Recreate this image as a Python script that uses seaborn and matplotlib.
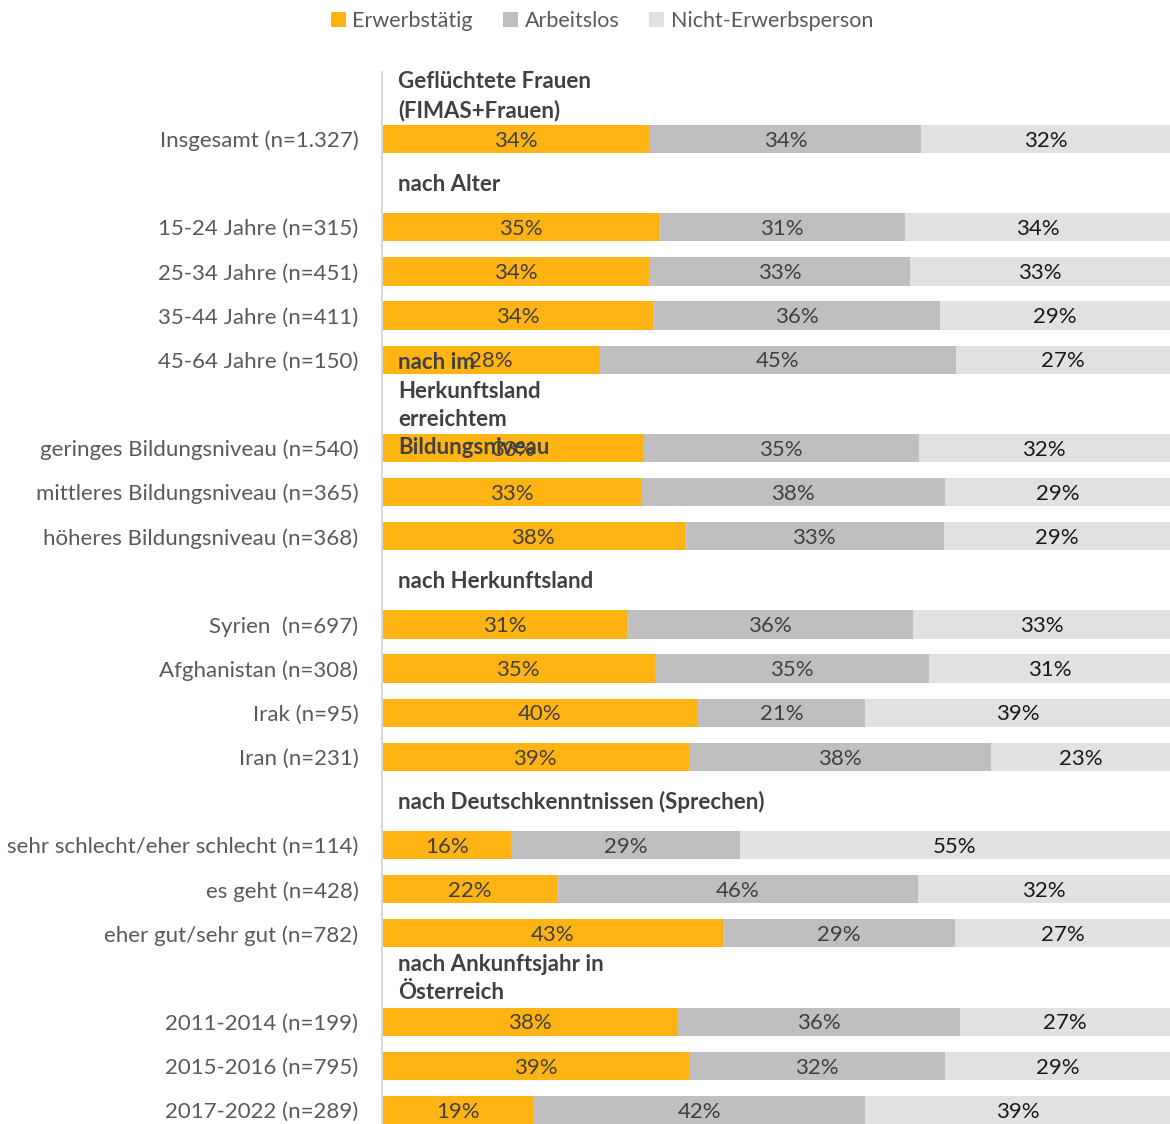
import numpy as np
import pandas as pd
import matplotlib
matplotlib.use("Agg")
import matplotlib.pyplot as plt
from matplotlib.patches import Patch
import seaborn as sns

# ---------------- data ----------------
categories = [
    "Insgesamt (n=1.327)",
    "15-24 Jahre (n=315)",
    "25-34 Jahre (n=451)",
    "35-44 Jahre (n=411)",
    "45-64 Jahre (n=150)",
    "geringes Bildungsniveau (n=540)",
    "mittleres Bildungsniveau (n=365)",
    "höheres Bildungsniveau (n=368)",
    "Syrien  (n=697)",
    "Afghanistan (n=308)",
    "Irak (n=95)",
    "Iran (n=231)",
    "sehr schlecht/eher schlecht (n=114)",
    "es geht (n=428)",
    "eher gut/sehr gut (n=782)",
    "2011-2014 (n=199)",
    "2015-2016 (n=795)",
    "2017-2022 (n=289)",
]
erwerbstaetig = [34.0, 35.2, 33.9, 34.4, 27.7, 33.2, 33.0, 38.4, 31.1, 34.6, 40.1, 38.9, 16.4, 22.2, 43.3, 37.6, 39.0, 19.3]
arbeitslos    = [34.4, 31.2, 33.1, 36.4, 45.1, 34.9, 38.4, 32.9, 36.3, 34.8, 21.2, 38.4, 29.0, 45.8, 29.4, 35.7, 32.4, 42.0]
nicht_erwerb  = [31.6, 33.6, 33.0, 29.2, 27.2, 31.9, 28.6, 28.7, 32.6, 30.6, 38.7, 22.7, 54.6, 32.0, 27.3, 26.7, 28.6, 38.7]

headers = [
    "Geflüchtete Frauen\n(FIMAS+Frauen)",
    "nach Alter",
    "nach im\nHerkunftsland\nerreichtem\nBildungsniveau",
    "nach Herkunftsland",
    "nach Deutschkenntnissen (Sprechen)",
    "nach Ankunftsjahr in\nÖsterreich",
]
header_before = [0, 1, 5, 8, 12, 15]  # index of category that follows each header

series_names = ["Erwerbstätig", "Arbeitslos", "Nicht-Erwerbsperson"]
colors = ["#FFB414", "#BFBFBF", "#E1E1E1"]

# ---------------- build row order ----------------
order = []
header_rows = {}
for i, cat in enumerate(categories):
    if i in header_before:
        key = f"__hdr{header_before.index(i)}"
        header_rows[len(order)] = headers[header_before.index(i)]
        order.append(key)
    order.append(cat)

df = pd.DataFrame({
    "cat": categories,
    "e": erwerbstaetig,
    "a": arbeitslos,
    "n": nicht_erwerb,
})
df["c1"] = df["e"]
df["c2"] = df["e"] + df["a"]
df["c3"] = df["e"] + df["a"] + df["n"]

# ---------------- plot ----------------
sns.set_theme(style="white")
plt.rcParams["font.family"] = ["Lato", "DejaVu Sans"]

FS = 16
W, H = 1170, 1124
fig = plt.figure(figsize=(W / 100, H / 100), dpi=100)
ax = fig.add_axes([382 / W, 0.0, 788 / W, 1052 / H])

for col, color in zip(["c3", "c2", "c1"], colors[::-1]):
    sns.barplot(data=df, x=col, y="cat", order=order, orient="h",
                color=color, width=0.64, saturation=1, ax=ax,
                edgecolor="none", linewidth=0, errorbar=None)

ax.set_xlim(0, 100)
ax.set_ylim(23.32, -0.52)
ax.set_xlabel("")
ax.set_ylabel("")
ax.set_xticks([])

ypos = {c: i for i, c in enumerate(order)}
ax.set_yticks(range(len(order)))
ax.set_yticklabels(["" if k in header_rows else c for k, c in enumerate(order)],
                   fontsize=FS, color="#595959")
ax.tick_params(axis="y", length=0, pad=17)

for s in ["top", "right", "bottom"]:
    ax.spines[s].set_visible(False)
ax.spines["left"].set_color("#D9D9D9")
ax.spines["left"].set_linewidth(1.5)

# segment labels
for _, r in df.iterrows():
    y = ypos[r["cat"]]
    lefts = [0, r["c1"], r["c2"]]
    vals = [r["e"], r["a"], r["n"]]
    for j, (l, v) in enumerate(zip(lefts, vals)):
        ax.text(l + v / 2, y + 0.04, f"{v:.0f}%", ha="center", va="center",
                fontsize=FS, color="#1A1A1A" if j == 2 else "#404040", zorder=5)

# group headers
for row, txt in header_rows.items():
    ax.text(2.0, row + 0.03, txt, ha="left", va="center", fontsize=FS,
            fontweight="bold", color="#404040", linespacing=1.42, zorder=6)

# legend
handles = [Patch(facecolor=c, edgecolor="none", label=n) for c, n in zip(colors, series_names)]
fig.legend(handles=handles, loc="center", bbox_to_anchor=(602 / W, 1 - 21 / H), ncol=3,
           frameon=False, fontsize=15.5, labelcolor="#595959",
           handlelength=0.7, handleheight=0.7, handletextpad=0.3, columnspacing=1.4)

fig.savefig("out.png", dpi=100)
